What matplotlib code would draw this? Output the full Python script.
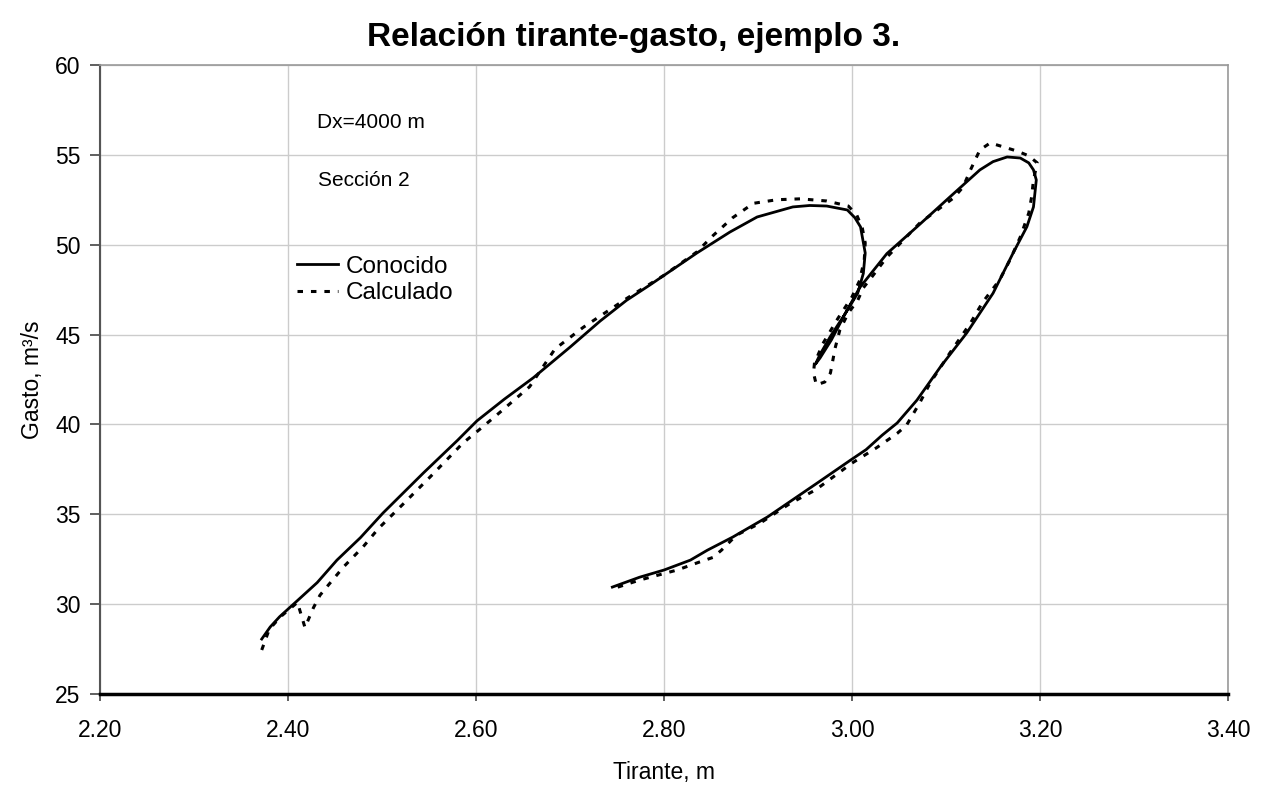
""" Relacion tirante-gasto, ejemplo 3 (curvas conocida y calculada) """

import numpy as np
import matplotlib.pyplot as plt

plt.rcParams['font.family'] = ['Liberation Sans', 'DejaVu Sans']

# Curva conocida (tirante m, gasto m3/s)
conocido_x = [2.372, 2.381, 2.391, 2.410, 2.431, 2.452, 2.477, 2.501, 2.544, 2.580,
              2.601, 2.630, 2.661, 2.700, 2.732, 2.760, 2.785, 2.835, 2.870, 2.899,
              2.937, 2.955, 2.973, 2.995, 3.003, 3.009, 3.014, 3.012, 3.006, 2.992,
              2.977, 2.966, 2.961, 2.966, 2.978, 2.992, 3.008, 3.037, 3.069, 3.104,
              3.136, 3.150, 3.165, 3.179, 3.188, 3.193, 3.196, 3.193, 3.186, 3.171,
              3.150, 3.122, 3.094, 3.069, 3.048, 3.032, 3.015, 2.998, 2.963, 2.910,
              2.873, 2.846, 2.828, 2.800, 2.774, 2.745]
conocido_y = [28.06, 28.73, 29.30, 30.20, 31.20, 32.45, 33.70, 35.07, 37.30, 39.10,
              40.20, 41.40, 42.60, 44.30, 45.75, 46.90, 47.76, 49.54, 50.70, 51.54,
              52.10, 52.18, 52.15, 51.93, 51.50, 50.99, 49.54, 48.40, 47.30, 46.10,
              44.90, 43.90, 43.35, 43.70, 44.70, 46.10, 47.60, 49.50, 50.99, 52.65,
              54.16, 54.62, 54.88, 54.82, 54.55, 54.16, 53.60, 52.10, 51.00, 49.50,
              47.30, 45.09, 43.20, 41.35, 40.08, 39.40, 38.60, 38.00, 36.74, 34.85,
              33.73, 33.00, 32.45, 31.90, 31.50, 30.95]

# Curva calculada
calculado_x = [2.372, 2.380, 2.392, 2.410, 2.418, 2.427, 2.434, 2.443, 2.459, 2.480,
               2.496, 2.523, 2.551, 2.586, 2.607, 2.626, 2.657, 2.684, 2.714, 2.760,
               2.800, 2.835, 2.852, 2.873, 2.895, 2.920, 2.945, 2.973, 2.996, 3.005,
               3.011, 3.014, 3.013, 3.008, 3.000, 2.985, 2.969, 2.960, 2.959, 2.962,
               2.971, 2.977, 2.982, 2.987, 2.996, 3.006, 3.012, 3.021, 3.037, 3.072,
               3.108, 3.118, 3.126, 3.136, 3.147, 3.161, 3.176, 3.188, 3.197, 3.193,
               3.191, 3.188, 3.179, 3.168, 3.157, 3.139, 3.126, 3.104, 3.083, 3.072,
               3.058, 3.048, 3.026, 3.000, 2.961, 2.934, 2.902, 2.877, 2.861, 2.852,
               2.838, 2.814, 2.774, 2.745]
calculado_y = [27.45, 28.60, 29.30, 30.10, 28.70, 29.80, 30.50, 31.07, 32.07, 33.20,
               34.20, 35.60, 37.07, 38.96, 39.86, 40.70, 42.10, 44.20, 45.40, 47.00,
               48.30, 49.60, 50.50, 51.50, 52.30, 52.50, 52.55, 52.43, 52.15, 51.65,
               50.90, 50.10, 49.15, 48.00, 47.10, 45.90, 44.50, 43.40, 42.86, 42.20,
               42.36, 42.86, 44.25, 45.25, 46.20, 46.90, 47.60, 48.20, 49.30, 51.20,
               52.60, 53.20, 54.16, 55.27, 55.66, 55.44, 55.20, 54.94, 54.55, 53.60,
               52.65, 51.76, 50.43, 49.15, 48.04, 46.80, 45.64, 43.97, 42.30, 41.20,
               39.96, 39.50, 38.70, 37.85, 36.35, 35.60, 34.50, 33.84, 33.00, 32.60,
               32.35, 31.90, 31.34, 30.85]

x_ticks = np.arange(2.20, 3.41, 0.20)
y_ticks = np.arange(25, 61, 5)

fig = plt.figure(figsize=(12.68, 7.86), dpi=100)
ax = fig.add_axes([0.0789, 0.117, 0.8896, 0.8004])

ax.plot(conocido_x, conocido_y, '-', color='black', lw=2.0, label='Conocido')
ax.plot(calculado_x, calculado_y, color='black', lw=2.2,
        linestyle=(0, (1.8, 2.6)), label='Calculado')

ax.set_xlim(2.20, 3.40)
ax.set_ylim(25, 60)
ax.set_xticks(x_ticks)
ax.set_xticklabels([f'{v:.2f}' for v in x_ticks])
ax.set_yticks(y_ticks)
ax.grid(True, color='#cccccc', lw=1.0)
ax.set_axisbelow(True)

ax.tick_params(axis='y', direction='out', length=7, width=1.2, pad=7,
               labelsize=16.5, color='#444444')
ax.tick_params(axis='x', direction='out', length=5, width=1.2, pad=13,
               labelsize=16.5, color='#444444')

for side in ['top', 'right']:
    ax.spines[side].set_color('#999999')
    ax.spines[side].set_linewidth(1.2)
ax.spines['left'].set_color('#555555')
ax.spines['left'].set_linewidth(1.5)
ax.spines['bottom'].set_color('black')
ax.spines['bottom'].set_linewidth(2.5)

ax.set_xlabel('Tirante, m', fontsize=16.5, labelpad=14)
ax.set_ylabel('Gasto, m³/s', fontsize=16.5, labelpad=8)

fig.suptitle('Relación tirante-gasto, ejemplo 3.', x=0.5, y=0.972,
             fontsize=24, fontweight='bold')

ax.text(0.192, 0.909, 'Dx=4000 m', transform=ax.transAxes, fontsize=15,
        va='center', ha='left')
ax.text(0.193, 0.816, 'Sección 2', transform=ax.transAxes, fontsize=15,
        va='center', ha='left')

ax.legend(loc='upper left', bbox_to_anchor=(0.1746, 0.697), frameon=False,
          fontsize=17.5, handlelength=1.7, handletextpad=0.3,
          labelspacing=0.2, borderaxespad=0, borderpad=0)

fig.savefig('out.png', dpi=100)
